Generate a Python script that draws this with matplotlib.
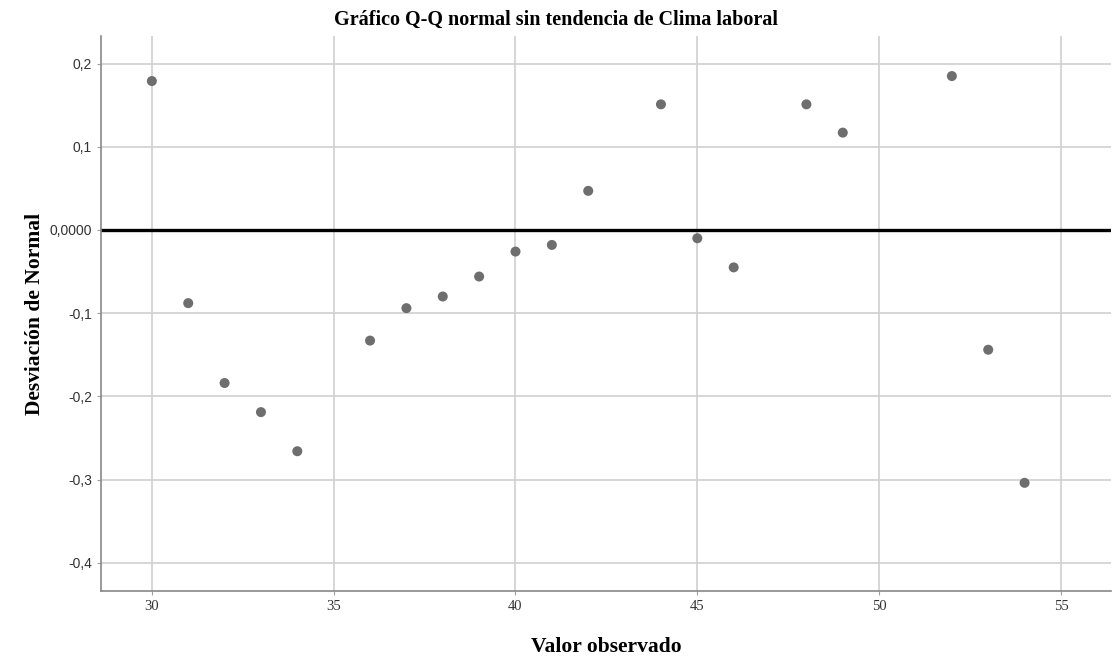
import matplotlib
matplotlib.use("Agg")
import matplotlib.pyplot as plt
from matplotlib.ticker import FuncFormatter

# valores observados y desviación de la normal
valor_observado = [30, 31, 32, 33, 34, 36, 37, 38, 39, 40, 41, 42, 44, 45, 46, 48, 49, 52, 53, 54]
desviacion = [0.179, -0.088, -0.184, -0.219, -0.266, -0.133, -0.094, -0.080, -0.056, -0.026,
              -0.018, 0.047, 0.151, -0.010, -0.045, 0.151, 0.117, 0.185, -0.144, -0.304]

x_ticks = [30, 35, 40, 45, 50, 55]
y_ticks = [0.2, 0.1, 0.0, -0.1, -0.2, -0.3, -0.4]

fig = plt.figure(figsize=(11.13, 6.57), dpi=100)
ax = fig.add_axes([0.0907, 0.1005, 0.9073, 0.8445])

ax.grid(True, color="#d0d0d0", linewidth=1.2, zorder=0)
ax.axhline(0, color="black", linewidth=2.4, zorder=2)
ax.scatter(valor_observado, desviacion, s=52, color="#6e6e6e", edgecolors="none", zorder=3)

ax.set_xlim(28.6, 56.37)
ax.set_ylim(-0.434, 0.233)
ax.set_xticks(x_ticks)
ax.set_yticks(y_ticks)


def fmt_y(v, pos):
    if abs(v) < 1e-9:
        return "0,0000"
    return ("%.1f" % v).replace(".", ",")


ax.yaxis.set_major_formatter(FuncFormatter(fmt_y))
ax.tick_params(axis="both", length=3, color="#a0a0a0", labelsize=10, labelcolor="#333333")
for lab in ax.get_xticklabels():
    lab.set_family("Liberation Serif")
    lab.set_fontsize(10.5)
for lab in ax.get_yticklabels():
    lab.set_family("Liberation Sans")

for s in ["top", "right"]:
    ax.spines[s].set_visible(False)
for s in ["left", "bottom"]:
    ax.spines[s].set_color("#888888")
    ax.spines[s].set_linewidth(1.2)

fig.suptitle("Gráfico Q-Q normal sin tendencia de Clima laboral", family="Liberation Serif",
             fontsize=14.5, fontweight="bold", x=0.5, y=0.985)
ax.set_xlabel("Valor observado", family="Liberation Serif", fontsize=15.5, fontweight="bold", labelpad=17)
ax.set_ylabel("Desviación de Normal", family="Liberation Serif", fontsize=15.5, fontweight="bold", labelpad=3)

fig.savefig("out.png", dpi=100)
